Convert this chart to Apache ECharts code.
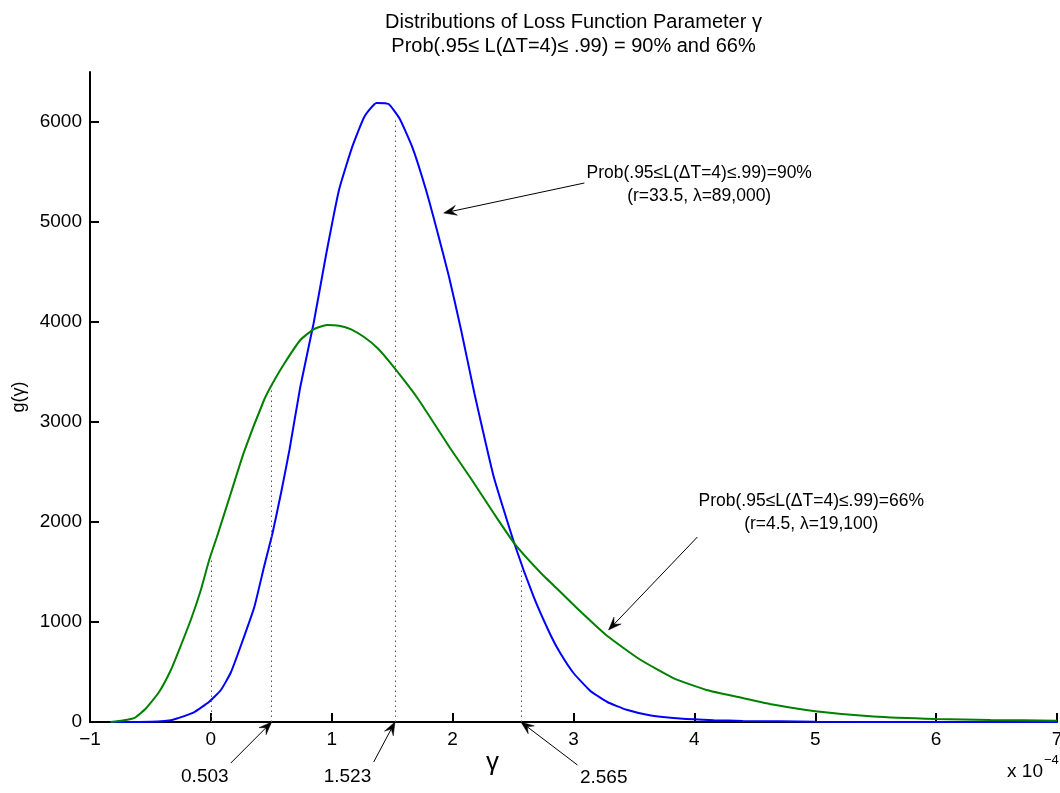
<!DOCTYPE html>
<html>
<head>
<meta charset="utf-8">
<script src="https://cdn.jsdelivr.net/npm/echarts@6/dist/echarts.min.js"></script>
<style>
  html, body { margin: 0; padding: 0; background: #fff; }
  #chart { width: 1060px; height: 793px; }
</style>
</head>
<body>
<div id="chart"></div>
<script>
const FONT = '"Liberation Sans", Arial, Helvetica, sans-serif';

// γ in units of 1e-4; g(γ) density values
const blueGamma = [-0.83, -0.6, -0.44, -0.33, -0.275, -0.14, -0.014, 0.083, 0.165, 0.25, 0.36, 0.44, 0.51, 0.58, 0.65,
  0.74, 0.85, 0.95, 1.06, 1.17, 1.27, 1.37, 1.47, 1.56, 1.67, 1.78, 1.87, 1.97, 2.07, 2.18, 2.23, 2.34, 2.51, 2.67,
  2.81, 2.89, 3.0, 3.14, 3.28, 3.44, 3.64, 3.88, 4.16, 4.4, 5.0, 6.0, 7.0];
const blueDensity = [0, 1, 4, 18, 37, 97, 203, 320, 495, 770, 1153, 1553, 1887, 2287, 2720,
  3353, 3987, 4653, 5320, 5753, 6053, 6190, 6180, 6037, 5737, 5320, 4920, 4453, 3920, 3287, 3020, 2453, 1787, 1253,
  870, 690, 490, 310, 200, 122, 65, 35, 18, 11, 3, 0, 0];

const greenGamma = [-0.83, -0.73, -0.63, -0.54, -0.43, -0.33, -0.25, -0.165, -0.083, -0.014, 0.055, 0.165, 0.275,
  0.44, 0.503, 0.6, 0.74, 0.85, 0.96, 1.06, 1.16, 1.27, 1.38, 1.51, 1.71, 1.98, 2.15, 2.34, 2.51, 2.73, 2.89, 3.06,
  3.28, 3.55, 3.83, 4.1, 4.38, 4.66, 5.0, 5.48, 6.0, 6.45, 7.0];
const greenDensity = [0, 15, 42, 132, 298, 523, 760, 1025, 1320, 1620, 1870, 2287, 2703,
  3220, 3370, 3570, 3820, 3927, 3970, 3963, 3927, 3847, 3737, 3553, 3237, 2737, 2437, 2087, 1787, 1490, 1303, 1103,
  860, 625, 437, 320, 245, 172, 108, 55, 30, 20, 13];

const xTicks = [-1, 0, 1, 2, 3, 4, 5, 6, 7];
const yTicks = [0, 1000, 2000, 3000, 4000, 5000, 6000];

// dotted guide lines: position on γ axis and the curve height they reach
const guideGamma = [0, 0.503, 1.523, 2.565];
const guideHeight = [1650, 3370, 6040, 1600];

// values called out under the axis
const calloutValues = [0.503, 1.523, 2.565];
const calloutTail = [[0.165, -410], [1.347, -400], [3.033, -430]];
const calloutText = [[-0.05, -550], [1.13, -550], [3.25, -560]];

const zip = (xs, ys) => xs.map((x, i) => [x, ys[i]]);

const chart = echarts.init(document.getElementById('chart'), null, { renderer: 'canvas' });

const option = {
  animation: false,
  backgroundColor: '#ffffff',
  textStyle: { fontFamily: FONT },
  grid: { left: 90, right: 3, top: 72, bottom: 71, outerBoundsMode: 'none', containLabel: false },
  xAxis: {
    type: 'value', min: -1, max: 7, interval: 1,
    axisLine: { onZero: false, lineStyle: { color: '#000', width: 2 } },
    axisTick: { inside: true, length: 9, lineStyle: { color: '#000', width: 2 }, customValues: xTicks },
    axisLabel: { color: '#000', fontSize: 19, margin: 8, fontFamily: FONT, customValues: xTicks,
      formatter: v => String(v).replace('-', '\u2212') },
    splitLine: { show: false }
  },
  yAxis: {
    type: 'value', min: 0, max: 6500, interval: 1000,
    name: 'g(γ)', nameLocation: 'middle', nameGap: 62, nameRotate: 90,
    nameTextStyle: { fontSize: 18, color: '#000', fontFamily: FONT },
    axisLine: { show: true, onZero: false, lineStyle: { color: '#000', width: 2 } },
    axisTick: { show: true, inside: true, length: 9, lineStyle: { color: '#000', width: 2 }, customValues: yTicks },
    axisLabel: { color: '#000', fontSize: 19, margin: 8, fontFamily: FONT, customValues: yTicks,
      formatter: v => String(v) },
    splitLine: { show: false }
  },
  series: [
    {
      name: 'r=33.5', type: 'line', data: zip(blueGamma, blueDensity),
      showSymbol: false, smooth: 0.15,
      lineStyle: { color: '#0000ff', width: 2 }, itemStyle: { color: '#0000ff' }, z: 3,
      markLine: {
        silent: true, symbol: 'none', label: { show: false },
        lineStyle: { type: [1.5, 3.5], color: '#555', width: 1 },
        data: guideGamma.map((g, i) => [{ coord: [g, 0] }, { coord: [g, guideHeight[i]] }])
      }
    },
    {
      name: 'r=4.5', type: 'line', data: zip(greenGamma, greenDensity),
      showSymbol: false, smooth: 0.15,
      lineStyle: { color: '#008000', width: 2 }, itemStyle: { color: '#008000' }, z: 3
    }
  ]
};
chart.setOption(option);

// annotations placed in data coordinates through the grid's own scales
const px = p => chart.convertToPixel({ gridIndex: 0 }, p);

function arrow(fromData, toData) {
  const a = px(fromData), b = px(toData);
  const dx = b[0] - a[0], dy = b[1] - a[1];
  const L = Math.hypot(dx, dy), ux = dx / L, uy = dy / L;
  const len = 13, half = 5, notch = 8;
  const base = [b[0] - ux * len, b[1] - uy * len];
  const left = [base[0] - uy * half, base[1] + ux * half];
  const right = [base[0] + uy * half, base[1] - ux * half];
  const back = [b[0] - ux * notch, b[1] - uy * notch];
  return [
    { type: 'line', silent: true, shape: { x1: a[0], y1: a[1], x2: back[0], y2: back[1] },
      style: { stroke: '#000', lineWidth: 1 } },
    { type: 'polygon', silent: true, shape: { points: [b, left, back, right] },
      style: { fill: '#000', stroke: '#000', lineWidth: 0.5 } }
  ];
}

function label(dataPos, text, size, lineHeight) {
  const p = px(dataPos);
  return { type: 'text', silent: true, x: p[0], y: p[1],
    style: { text, fill: '#000', font: size + 'px ' + FONT, align: 'center', verticalAlign: 'middle',
      lineHeight: lineHeight || size } };
}

const graphics = [];

// title
const midX = (px([-1, 0])[0] + px([7, 0])[0]) / 2;
graphics.push({ type: 'text', silent: true, x: midX, y: 22,
  style: { text: 'Distributions of Loss Function Parameter γ', fill: '#000', font: '20px ' + FONT,
    align: 'center', verticalAlign: 'middle' } });
graphics.push({ type: 'text', silent: true, x: midX, y: 46,
  style: { text: 'Prob(.95\u2264 L(\u0394T=4)\u2264 .99) = 90% and 66%', fill: '#000', font: '20px ' + FONT,
    align: 'center', verticalAlign: 'middle' } });

// x axis name
graphics.push(label([2.33, -410], 'γ', 26));

// curve annotations
graphics.push(label([4.04, 5370], 'Prob(.95\u2264L(\u0394T=4)\u2264.99)=90%\n(r=33.5, \u03bb=89,000)', 17.5, 23));
graphics.push(...arrow([3.09, 5390], [1.926, 5090]));
graphics.push(label([4.967, 2090], 'Prob(.95\u2264L(\u0394T=4)\u2264.99)=66%\n(r=4.5, \u03bb=19,100)', 17.5, 23));
graphics.push(...arrow([4.025, 1850], [3.29, 920]));

// values called out below the γ axis
calloutValues.forEach((v, i) => {
  graphics.push(...arrow(calloutTail[i], [v, 0]));
  graphics.push(label(calloutText[i], v.toFixed(3), 19));
});

// axis exponent
const end = px([7, 0]);
graphics.push({ type: 'text', silent: true, x: end[0] - 14, y: end[1] + 50,
  style: { text: 'x 10', fill: '#000', font: '19px ' + FONT, align: 'right', verticalAlign: 'middle' } });
graphics.push({ type: 'text', silent: true, x: end[0] - 13, y: end[1] + 38,
  style: { text: '\u22124', fill: '#000', font: '13px ' + FONT, align: 'left', verticalAlign: 'middle' } });

chart.setOption({ graphic: graphics });
</script>
</body>
</html>
